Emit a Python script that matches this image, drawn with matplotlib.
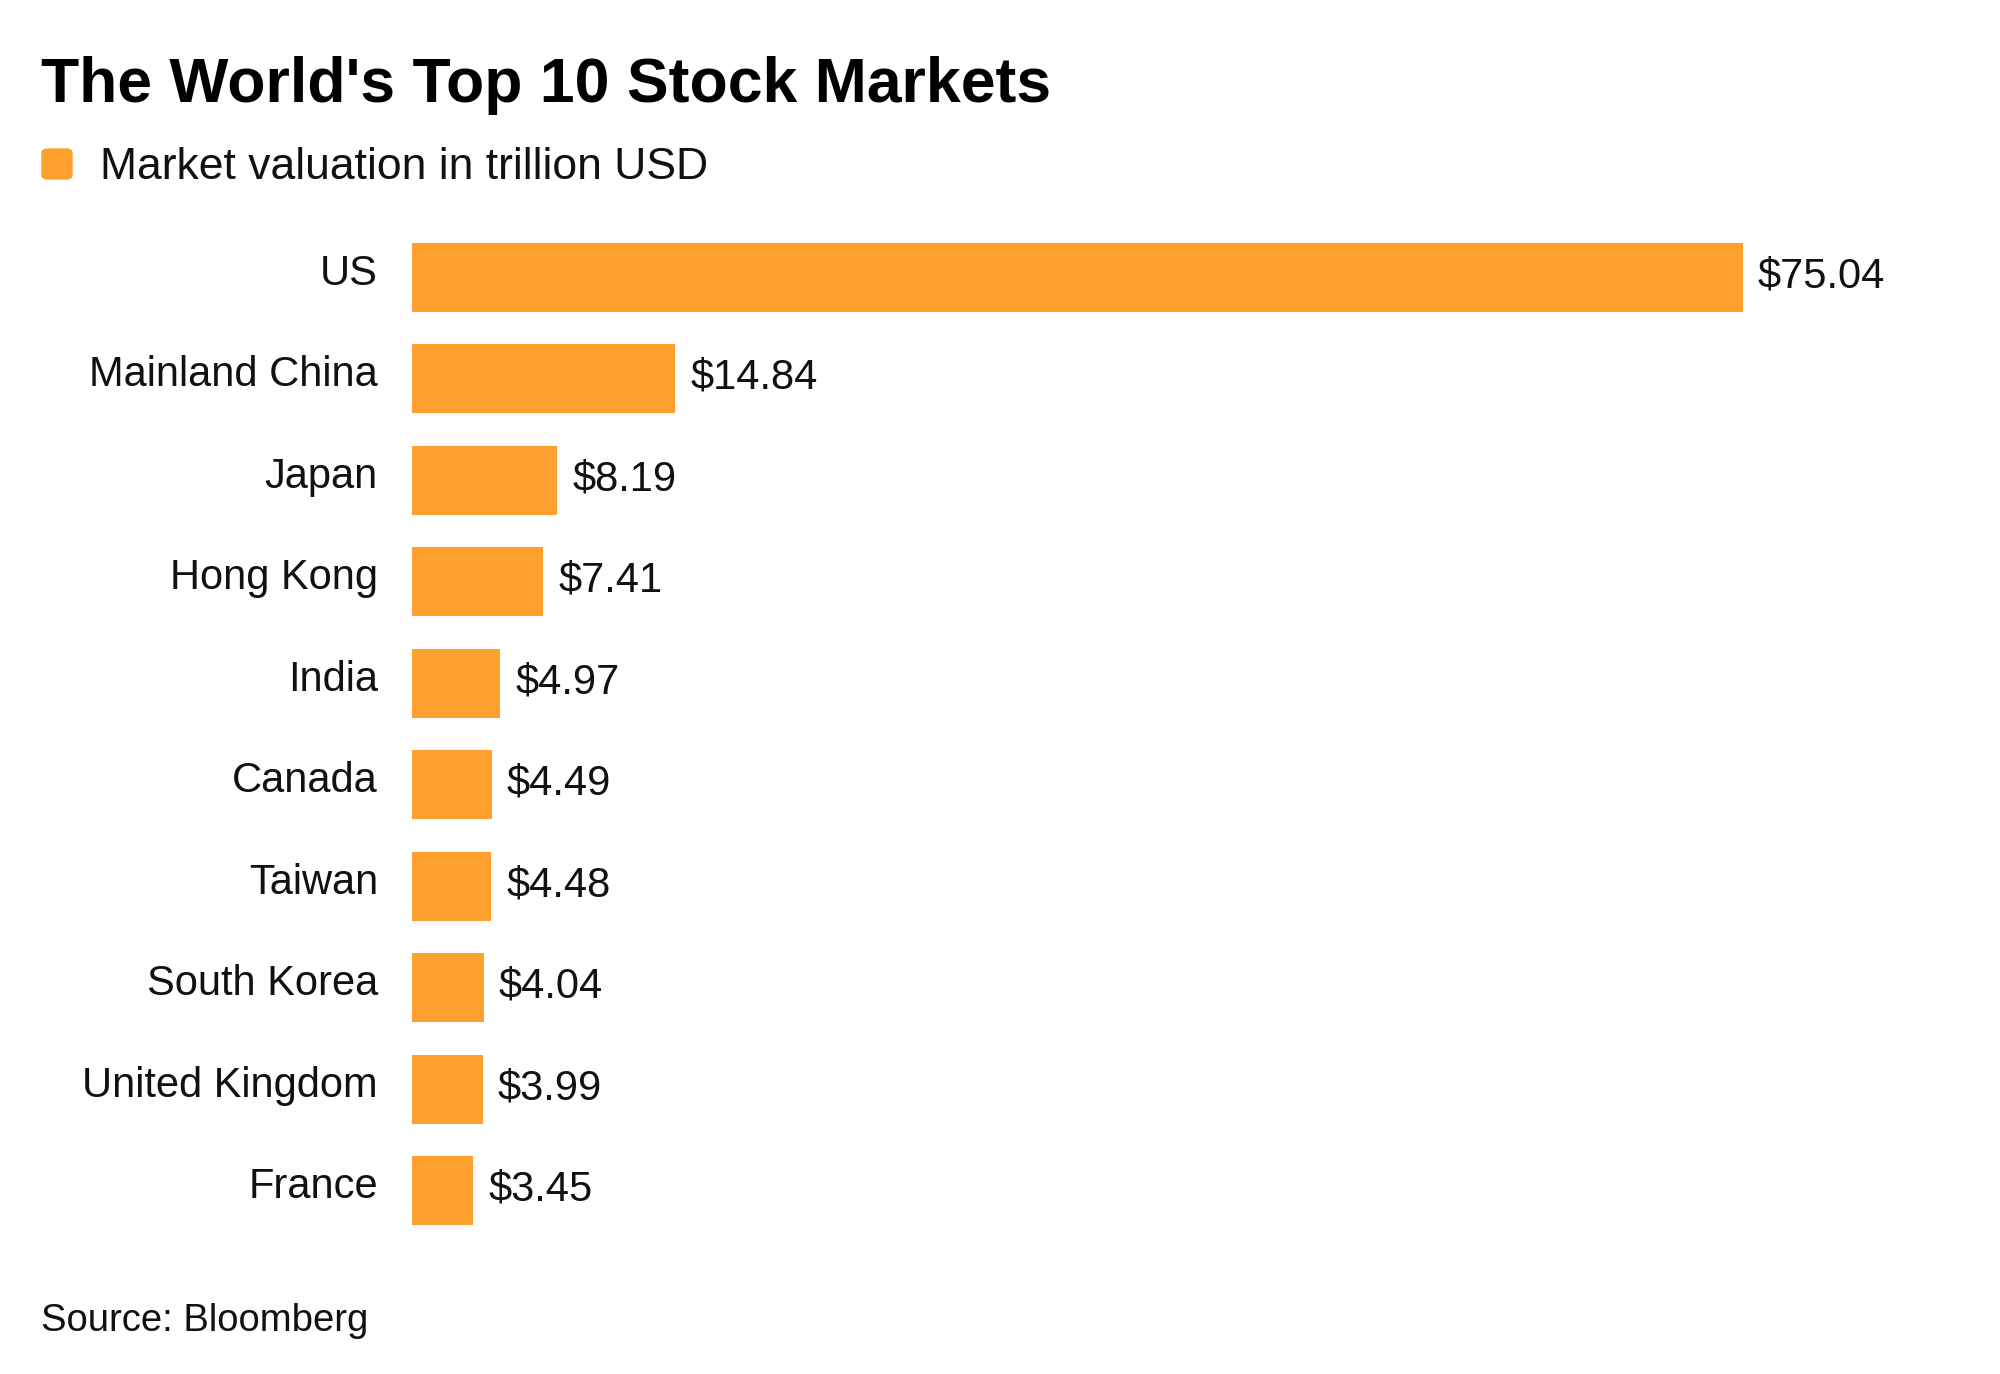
import matplotlib
matplotlib.use("Agg")
import matplotlib.pyplot as plt
from matplotlib.patches import FancyBboxPatch

# data
countries = ["US", "Mainland China", "Japan", "Hong Kong", "India",
             "Canada", "Taiwan", "South Korea", "United Kingdom", "France"]
valuations = [75.04, 14.84, 8.19, 7.41, 4.97, 4.49, 4.48, 4.04, 3.99, 3.45]

bar_color = "#FFA02E"
text_color = "#111111"

plt.rcParams["font.family"] = ["Liberation Sans", "DejaVu Sans"]

fig = plt.figure(figsize=(20, 13.74), dpi=100)
ax = fig.add_axes([0.206, 0.0966, 0.774, 0.7387])

y = list(range(len(countries)))
ax.barh(y, valuations, height=0.68, color=bar_color)
ax.set_xlim(0, 87.3)
ax.set_ylim(len(countries) - 0.5, -0.5)
ax.axis("off")

# country names to the left of the bars
for i, name in enumerate(countries):
    ax.annotate(name, xy=(0, i), xytext=(-24.5, -5.4), textcoords="offset points",
                ha="right", va="baseline", fontsize=30, color=text_color)

# value labels after each bar
for i, v in enumerate(valuations):
    ax.annotate("${:.2f}".format(v), xy=(v, i), xytext=(10.8, -7.5),
                textcoords="offset points", ha="left", va="baseline",
                fontsize=30, color=text_color)

# title, legend, source
fig.text(0.0205, 1 - 102 / 1374, "The World's Top 10 Stock Markets",
         fontsize=45, fontweight="bold", color="#000000", va="baseline")

fig.patches.append(FancyBboxPatch((42 / 2000, 1 - 179 / 1374), 30 / 2000, 30 / 1374,
                                  boxstyle="round,pad=0,rounding_size=0.003",
                                  transform=fig.transFigure, color=bar_color))
fig.text(100 / 2000, 1 - 179 / 1374, "Market valuation in trillion USD",
         fontsize=32, color=text_color, va="baseline")

fig.text(0.0205, 1 - 1331 / 1374, "Source: Bloomberg",
         fontsize=27.5, color=text_color, va="baseline")

fig.savefig("out.png", dpi=100, facecolor="white")
